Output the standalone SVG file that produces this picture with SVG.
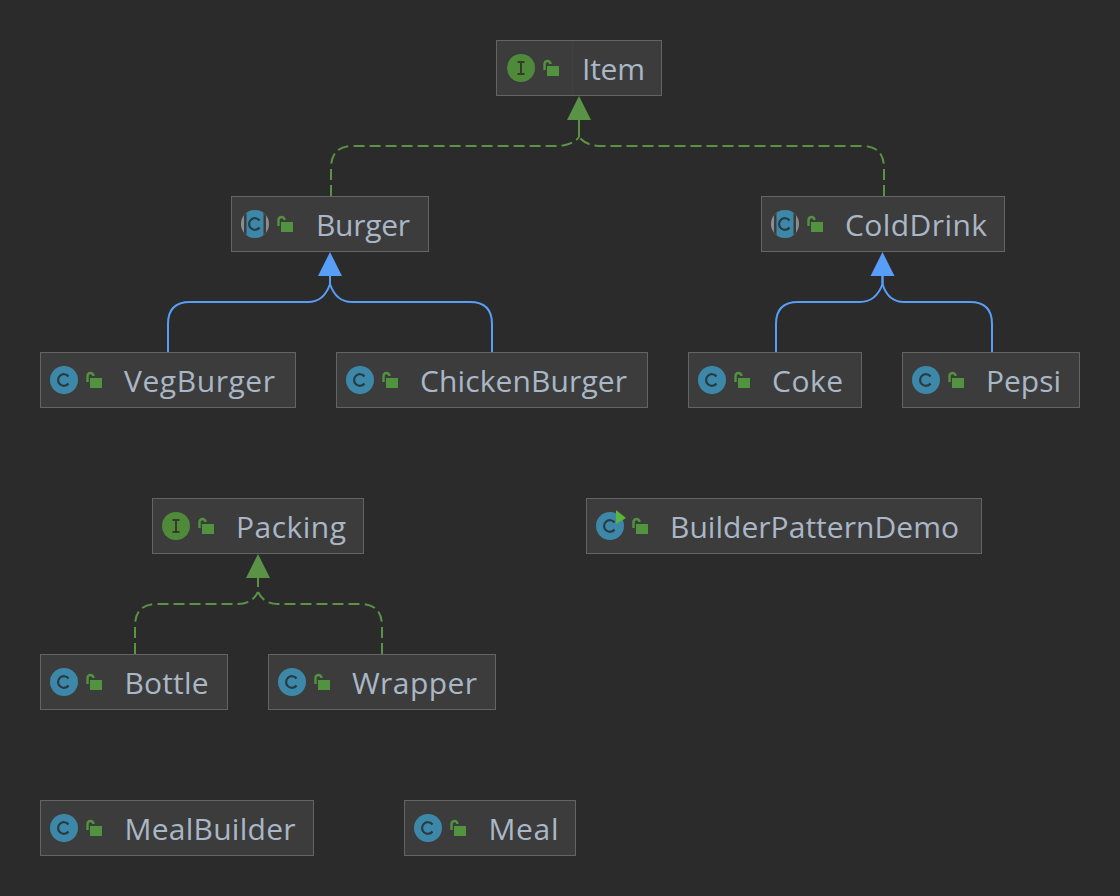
<svg xmlns="http://www.w3.org/2000/svg" width="1120" height="896" viewBox="0 0 1120 896">
<style>
.box{fill:#3c3c3c;stroke:#646464;stroke-width:1}
.div{stroke:#404040;stroke-width:1}
.t{font-family:"Open Sans","Noto Sans",sans-serif;font-size:30px;fill:#a9b7c6}
.impl{fill:none;stroke:#5a9346;stroke-width:2;stroke-dasharray:11 5}
.stem{fill:none;stroke:#5a9346;stroke-width:2}
.ext{fill:none;stroke:#589df6;stroke-width:2}
.ha{fill:#5a9346}.hb{fill:#589df6}
</style>
<defs>
<clipPath id="disc"><circle r="14"/></clipPath>
<g id="lock"><path d="M1.500 4V-2a3 3 0 0 1 6 0" fill="none" stroke="#52933f" stroke-width="2.400"/><rect x="4" y="0" width="12" height="10" fill="#52933f"/></g>
<g id="c"><circle r="14" fill="#3d88a8"/><path d="M4.500 -3.500A5.800 5.800 0 1 0 4.500 3.500" fill="none" stroke="#283a44" stroke-width="2.200"/></g>
<g id="i"><circle r="14" fill="#4f8a3a"/><path d="M-3.500 -6H3.500M-3.500 6H3.500M0 -6V6" fill="none" stroke="#2f3d2a" stroke-width="2"/></g>
<g id="a"><circle r="14" fill="#8a8f92"/><g clip-path="url(#disc)"><rect x="-11" y="-14" width="22" height="28" fill="#3c3c3c"/><rect x="-8.500" y="-14" width="17" height="28" fill="#3d88a8"/></g><path d="M4.500 -3.500A5.800 5.800 0 1 0 4.500 3.500" fill="none" stroke="#283a44" stroke-width="2.200"/></g>
</defs>
<rect width="1120" height="896" fill="#2b2b2b"/>
<g id="connectors">
<path class="impl" d="M331 196V168Q331 146 353 146H556Q572 146 579 137"/>
<path class="impl" d="M884 196V168Q884 146 862 146H602Q586 146 579 137"/>
<path class="stem" d="M579 137V118"/>
<path class="ha" d="M579 96L591 120H567Z"/>
<path class="ext" d="M168 352V324Q168 302 190 302H308Q324 302 330 284V274"/>
<path class="ext" d="M492 352V324Q492 302 470 302H352Q336 302 330 284V274"/>
<path class="hb" d="M330 252L342 276H318Z"/>
<path class="ext" d="M776 352V324Q776 302 798 302H860Q876 302 882.500 284V274"/>
<path class="ext" d="M992 352V324Q992 302 970 302H904Q888 302 882.500 284V274"/>
<path class="hb" d="M882.500 252L894.500 276H870.500Z"/>
<path class="impl" d="M135 654V626Q135 604 157 604H238Q252 604 258 592"/>
<path class="impl" d="M382 654V626Q382 604 360 604H278Q264 604 258 592"/>
<path class="stem" d="M258 587V576"/>
<path class="ha" d="M258 554L270 578H246Z"/>
</g>
<g id="Item"><rect class="box" x="496.500" y="40.500" width="165" height="55"/><path class="div" d="M572.500 41V95"/><use href="#i" x="521" y="68"/><use href="#lock" x="543" y="66"/><text class="t" x="582" y="80" textLength="63">Item</text></g>
<g id="Burger"><rect class="box" x="231.500" y="196.500" width="197" height="55"/><use href="#a" x="255" y="224"/><use href="#lock" x="277" y="222"/><text class="t" x="316" y="236" textLength="94">Burger</text></g>
<g id="ColdDrink"><rect class="box" x="761.500" y="196.500" width="243" height="55"/><use href="#a" x="785" y="224"/><use href="#lock" x="807" y="222"/><text class="t" x="845" y="236" textLength="142">ColdDrink</text></g>
<g id="VegBurger"><rect class="box" x="40.500" y="352.500" width="255" height="55"/><use href="#c" x="64" y="380"/><use href="#lock" x="86" y="378"/><text class="t" x="124" y="392" textLength="151">VegBurger</text></g>
<g id="ChickenBurger"><rect class="box" x="336.500" y="352.500" width="311" height="55"/><use href="#c" x="360" y="380"/><use href="#lock" x="382" y="378"/><text class="t" x="420" y="392" textLength="207">ChickenBurger</text></g>
<g id="Coke"><rect class="box" x="688.500" y="352.500" width="173" height="55"/><use href="#c" x="712" y="380"/><use href="#lock" x="734" y="378"/><text class="t" x="772" y="392" textLength="71">Coke</text></g>
<g id="Pepsi"><rect class="box" x="902.500" y="352.500" width="177" height="55"/><use href="#c" x="926" y="380"/><use href="#lock" x="948" y="378"/><text class="t" x="986" y="392" textLength="75">Pepsi</text></g>
<g id="Packing"><rect class="box" x="152.500" y="498.500" width="211" height="55"/><use href="#i" x="176" y="526"/><use href="#lock" x="198" y="524"/><text class="t" x="236" y="538" textLength="110">Packing</text></g>
<g id="BuilderPatternDemo"><rect class="box" x="586.500" y="498.500" width="395" height="55"/><use href="#c" x="610" y="526"/><path d="M616 510L626 518L616 524Z" fill="#5bb53a"/><use href="#lock" x="632" y="524"/><text class="t" x="670" y="538" textLength="289">BuilderPatternDemo</text></g>
<g id="Bottle"><rect class="box" x="40.500" y="654.500" width="187" height="55"/><use href="#c" x="64" y="682"/><use href="#lock" x="86" y="680"/><text class="t" x="124.500" y="694" textLength="84">Bottle</text></g>
<g id="Wrapper"><rect class="box" x="268.500" y="654.500" width="227" height="55"/><use href="#c" x="292" y="682"/><use href="#lock" x="314" y="680"/><text class="t" x="352" y="694" textLength="125">Wrapper</text></g>
<g id="MealBuilder"><rect class="box" x="40.500" y="800.500" width="273" height="55"/><use href="#c" x="64" y="828"/><use href="#lock" x="86" y="826"/><text class="t" x="124.500" y="840" textLength="171">MealBuilder</text></g>
<g id="Meal"><rect class="box" x="404.500" y="800.500" width="171" height="55"/><use href="#c" x="428" y="828"/><use href="#lock" x="450" y="826"/><text class="t" x="488.500" y="840" textLength="70">Meal</text></g>
</svg>
